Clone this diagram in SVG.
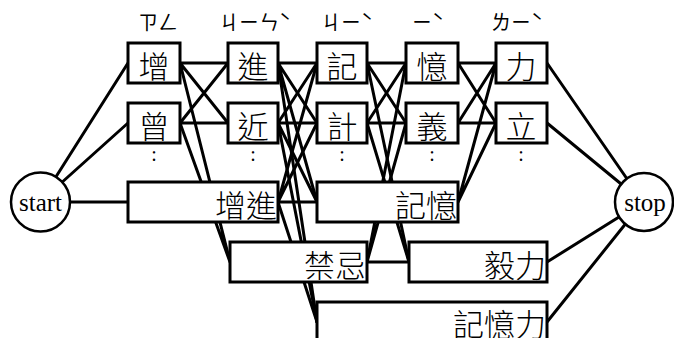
<svg xmlns="http://www.w3.org/2000/svg" width="674" height="338" viewBox="0 0 674 338">
<style>
.e{stroke:#000;stroke-width:3;fill:none;stroke-linecap:round}
.b{fill:#fff;stroke:#000;stroke-width:3}
.c{fill:#fff;stroke:#000;stroke-width:2.5}
.t{font-family:"Noto Sans CJK TC","Noto Sans CJK SC",sans-serif;font-size:31px;font-weight:300;dominant-baseline:central;fill:#000}
.m{text-anchor:middle}
.r{text-anchor:end}
.z{font-family:"Noto Sans CJK TC",sans-serif;font-size:20px;text-anchor:middle;fill:#000;font-weight:400}
.s{font-family:"Liberation Serif",serif;font-size:25px;text-anchor:middle;dominant-baseline:central;fill:#000}
.d{font-family:"Liberation Serif",serif;font-size:20px;text-anchor:middle;fill:#000}
</style>
<g id="connectors">
<path class="e" d="M40 202L128 63M40 202L128 123M40 202L128 202"/>
<path class="e" d="M180 63L228 63M180 63L228 123M180 63L230 262M180 123L228 63M180 123L228 123M180 123L230 262"/>
<path class="e" d="M278 202L317 63M278 202L317 123M278 202L317 202M278 202L317 322"/>
<path class="e" d="M278 63L317 63M278 63L317 123M278 63L317 202M278 63L317 322"/>
<path class="e" d="M278 123L317 63M278 123L317 123M278 123L317 202M278 123L317 322"/>
<path class="e" d="M367 63L406 63M367 63L406 123M367 63L409 262"/>
<path class="e" d="M367 123L406 63M367 123L406 123M367 123L409 262"/>
<path class="e" d="M367 262L406 63M367 262L406 123M367 262L409 262"/>
<path class="e" d="M458 63L496 63M458 63L496 123M458 123L496 63M458 123L496 123M458 202L496 63M458 202L496 123"/>
<path class="e" d="M547 63L643 202M547 123L643 202M547 262L643 202M547 322L643 202"/>
</g>
<g id="start"><circle class="c" cx="40.5" cy="202" r="29.5"/><text class="s" x="40.5" y="202">start</text></g>
<g id="stop"><circle class="c" cx="644" cy="202" r="29"/><text class="s" x="645" y="202">stop</text></g>
<g id="zhuyin">
<text class="z" x="158" y="30">ㄗㄥ</text>
<text class="z" x="255" y="30">ㄐㄧㄣˋ</text>
<text class="z" x="347" y="30">ㄐㄧˋ</text>
<text class="z" x="428" y="30">ㄧˋ</text>
<text class="z" x="517" y="30">ㄌㄧˋ</text>
</g>
<g id="dots">
<text class="d" x="154" y="161">:</text>
<text class="d" x="253" y="161">:</text>
<text class="d" x="342" y="161">:</text>
<text class="d" x="432" y="161">:</text>
<text class="d" x="521" y="161">:</text>
</g>
<g id="n-zeng"><rect class="b" x="128" y="43" width="52" height="40"/><text class="t m" x="154" y="64">增</text></g>
<g id="n-ceng"><rect class="b" x="128" y="103" width="52" height="40"/><text class="t m" x="154" y="124">曾</text></g>
<g id="n-jin"><rect class="b" x="228" y="43" width="50" height="40"/><text class="t m" x="253" y="64">進</text></g>
<g id="n-jin2"><rect class="b" x="228" y="103" width="50" height="40"/><text class="t m" x="253" y="124">近</text></g>
<g id="n-ji"><rect class="b" x="317" y="43" width="50" height="40"/><text class="t m" x="342" y="64">記</text></g>
<g id="n-ji2"><rect class="b" x="317" y="103" width="50" height="40"/><text class="t m" x="342" y="124">計</text></g>
<g id="n-yi"><rect class="b" x="406" y="43" width="52" height="40"/><text class="t m" x="432" y="64">憶</text></g>
<g id="n-yi2"><rect class="b" x="406" y="103" width="52" height="40"/><text class="t m" x="432" y="124">義</text></g>
<g id="n-li"><rect class="b" x="496" y="43" width="51" height="40"/><text class="t m" x="521" y="64">力</text></g>
<g id="n-li2"><rect class="b" x="496" y="103" width="51" height="40"/><text class="t m" x="521" y="124">立</text></g>
<g id="n-zengjin"><rect class="b" x="128" y="182" width="150" height="40"/><text class="t r" x="277" y="203">增進</text></g>
<g id="n-jinji"><rect class="b" x="230" y="242" width="137" height="40"/><text class="t r" x="366" y="263">禁忌</text></g>
<g id="n-jiyi"><rect class="b" x="317" y="182" width="141" height="40"/><text class="t r" x="457" y="203">記憶</text></g>
<g id="n-yili"><rect class="b" x="409" y="242" width="138" height="40"/><text class="t r" x="546" y="263">毅力</text></g>
<g id="n-jiyili"><rect class="b" x="317" y="302" width="230" height="40"/><text class="t r" x="546" y="322">記憶力</text></g>
</svg>
